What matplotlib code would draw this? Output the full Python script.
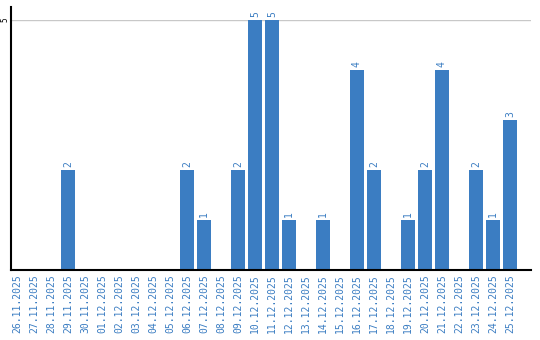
import matplotlib
matplotlib.use('Agg')
import matplotlib.pyplot as plt
import numpy as np

dates = ['26.11.2025', '27.11.2025', '28.11.2025', '29.11.2025', '30.11.2025',
         '01.12.2025', '02.12.2025', '03.12.2025', '04.12.2025', '05.12.2025',
         '06.12.2025', '07.12.2025', '08.12.2025', '09.12.2025', '10.12.2025',
         '11.12.2025', '12.12.2025', '13.12.2025', '14.12.2025', '15.12.2025',
         '16.12.2025', '17.12.2025', '18.12.2025', '19.12.2025', '20.12.2025',
         '21.12.2025', '22.12.2025', '23.12.2025', '24.12.2025', '25.12.2025']
counts = [0, 0, 0, 2, 0, 0, 0, 0, 0, 0, 2, 1, 0, 2, 5,
          5, 1, 0, 1, 0, 4, 2, 0, 1, 2, 4, 0, 2, 1, 3]

blue = '#3b7dc2'
font = 'DejaVu Sans Mono'

fig = plt.figure(figsize=(5.4, 3.4), dpi=100)
ax = fig.add_axes([11 / 540, 1 - 270 / 340, 520 / 540, 250 / 340])

x = np.arange(len(dates))
bars = ax.bar(x, counts, width=0.82, color=blue, zorder=2)

# value labels only on non-empty days
for xi, v in zip(x, counts):
    if v > 0:
        ax.text(xi, v + 0.05, str(v), rotation=90, ha='center', va='bottom',
                color=blue, fontsize=7, family=font, clip_on=False)

ax.set_xlim(-0.35, 30.24)
ax.set_ylim(0, 5)
ax.set_xticks(x)
ax.set_xticklabels(dates, rotation=90, color=blue, fontsize=7, family=font)
ax.set_yticks([5])
ax.set_yticklabels(['5'], rotation=90, va='center', fontsize=5.5, family=font)
ax.tick_params(axis='x', length=0, pad=3)
ax.tick_params(axis='y', length=0, pad=1)
ax.axhline(5, color='#c8c8c8', lw=1, zorder=1)

for s in ['top', 'right']:
    ax.spines[s].set_visible(False)
ax.spines['left'].set_color('black')
ax.spines['bottom'].set_color('black')
ax.spines['bottom'].set_linewidth(1.5)
ax.spines['left'].set_linewidth(1.5)
ax.spines['left'].set_bounds(0, 5.25)
ax.spines['left'].set_clip_on(False)

fig.savefig('out.png', dpi=100)
